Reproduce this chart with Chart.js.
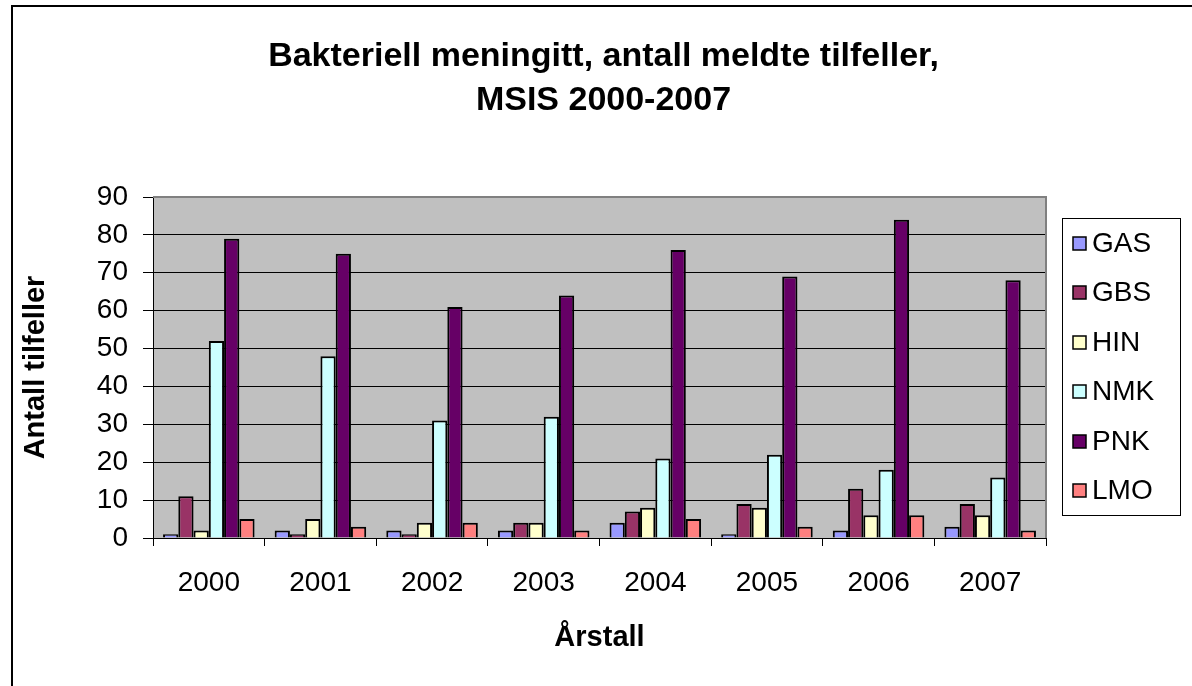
<!DOCTYPE html>
<html>
<head>
<meta charset="utf-8">
<script src="https://cdn.jsdelivr.net/npm/chart.js@4.4.1/dist/chart.umd.min.js"></script>
<style>
  html, body { margin: 0; padding: 0; background: #fff; }
  #wrap { position: relative; width: 1192px; height: 686px; }
</style>
</head>
<body>
<div id="wrap"><canvas id="chart" width="1192" height="686"></canvas></div>
<script>
// data
const years = ['2000', '2001', '2002', '2003', '2004', '2005', '2006', '2007'];
const seriesNames = ['GAS', 'GBS', 'HIN', 'NMK', 'PNK', 'LMO'];
const gas = [1, 2, 2, 2, 4, 1, 2, 3];
const gbs = [11, 1, 1, 4, 7, 9, 13, 9];
const hin = [2, 5, 4, 4, 8, 8, 6, 6];
const nmk = [52, 48, 31, 32, 21, 22, 18, 16];
const pnk = [79, 75, 61, 64, 76, 69, 84, 68];
const lmo = [5, 3, 4, 2, 5, 3, 6, 2];
const yTicks = [0, 10, 20, 30, 40, 50, 60, 70, 80, 90];
const titleLines = ['Bakteriell meningitt, antall meldte tilfeller,', 'MSIS 2000-2007'];

const colors = ['#9999FF', '#993366', '#FFFFCC', '#CCFFFF', '#660066', '#FF8080'];
const seriesValues = [gas, gbs, hin, nmk, pnk, lmo];

const FONT = "'Liberation Sans', Arial, sans-serif";

// grå bakgrunn i plottområdet + ramme rundt hele figuren
const backdrop = {
    id: 'backdrop',
    beforeDraw(chart) {
        const ctx = chart.ctx;
        const a = chart.chartArea;
        ctx.save();
        ctx.fillStyle = '#C0C0C0';
        ctx.fillRect(a.left, a.top, a.right - a.left, a.bottom - a.top);
        ctx.strokeStyle = '#000';
        ctx.lineWidth = 2;
        ctx.strokeRect(12, 6, 1300, 1000);
        ctx.restore();
    },
    afterDatasetsDraw(chart) {
        const ctx = chart.ctx;
        const a = chart.chartArea;
        ctx.save();
        ctx.strokeStyle = '#808080';
        ctx.lineWidth = 2;
        ctx.beginPath();
        ctx.moveTo(a.left, a.top);
        ctx.lineTo(a.right, a.top);
        ctx.lineTo(a.right, a.bottom);
        ctx.stroke();
        ctx.restore();
    }
};

// tittel sentrert over plottområdet (ikke hele lerretet)
const centeredTitle = {
    id: 'centeredTitle',
    afterDraw(chart) {
        const ctx = chart.ctx;
        const a = chart.chartArea;
        const cx = (a.left + a.right) / 2 + 4;
        ctx.save();
        ctx.fillStyle = '#000';
        ctx.font = 'bold 34px ' + FONT;
        ctx.textAlign = 'center';
        ctx.textBaseline = 'middle';
        titleLines.forEach((line, i) => ctx.fillText(line, cx, 57 + i * 44));
        ctx.restore();
    }
};

// legende med ramme, til høyre for plottet
const boxLegend = {
    id: 'boxLegend',
    afterDraw(chart) {
        const ctx = chart.ctx;
        const x = 1062, y = 218, w = 118, rowH = 49.5;
        const n = chart.data.datasets.length;
        ctx.save();
        ctx.fillStyle = '#fff';
        ctx.fillRect(x, y, w, rowH * n);
        ctx.strokeStyle = '#000';
        ctx.lineWidth = 1;
        ctx.strokeRect(x + 0.5, y + 0.5, w, rowH * n);
        ctx.font = '28px ' + FONT;
        ctx.textBaseline = 'middle';
        chart.data.datasets.forEach((ds, i) => {
            const cy = Math.round(y + rowH * i + rowH / 2);
            ctx.fillStyle = ds.backgroundColor;
            ctx.fillRect(x + 11, cy - 6, 13, 13);
            ctx.lineWidth = 1.5;
            ctx.strokeRect(x + 11, cy - 6, 13, 13);
            ctx.fillStyle = '#000';
            ctx.fillText(ds.label, x + 30, cy + 1);
        });
        ctx.restore();
    }
};

new Chart(document.getElementById('chart'), {
    type: 'bar',
    data: {
        labels: years,
        datasets: seriesNames.map((name, i) => ({
            label: name,
            data: seriesValues[i],
            backgroundColor: colors[i],
            borderColor: '#000',
            borderWidth: 2,
            borderSkipped: 'bottom',
            categoryPercentage: 0.82,
            barPercentage: 1.0
        }))
    },
    options: {
        responsive: false,
        animation: false,
        layout: { padding: { left: 0, right: 146, top: 197, bottom: 0 } },
        plugins: {
            legend: { display: false },
            tooltip: { enabled: false },
            title: { display: false }
        },
        scales: {
            x: {
                grid: {
                    display: true,
                    drawOnChartArea: false,
                    drawTicks: true,
                    tickLength: 8,
                    color: '#000',
                    offset: true
                },
                border: { display: true, color: '#000', width: 1 },
                ticks: {
                    color: '#000',
                    font: { family: FONT, size: 28 },
                    padding: 20
                },
                title: {
                    display: true,
                    text: 'Årstall',
                    color: '#000',
                    font: { family: FONT, size: 29, weight: 'bold' },
                    padding: { top: 0, bottom: 31 }
                },
                afterFit(scale) { scale.height = 148; }
            },
            y: {
                min: 0,
                max: 90,
                afterBuildTicks(scale) { scale.ticks = yTicks.map(v => ({ value: v })); },
                grid: {
                    color: '#000',
                    lineWidth: 1,
                    tickLength: 10,
                    drawTicks: true
                },
                border: { display: true, color: '#000', width: 1 },
                ticks: {
                    color: '#000',
                    font: { family: FONT, size: 28 },
                    padding: 15
                },
                title: {
                    display: true,
                    text: 'Antall tilfeller',
                    color: '#000',
                    font: { family: FONT, size: 29, weight: 'bold' },
                    padding: { top: 19, bottom: 0 }
                },
                afterFit(scale) { scale.width = 153; }
            }
        }
    },
    plugins: [backdrop, centeredTitle, boxLegend]
});
</script>
</body>
</html>
